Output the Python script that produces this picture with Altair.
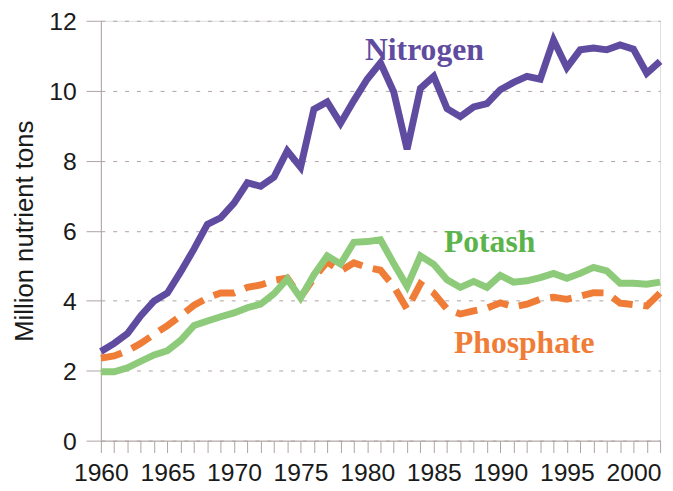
import altair as alt
import pandas as pd

years = list(range(1960, 2003))

nitrogen = [2.55, 2.78, 3.06, 3.57, 3.99, 4.22, 4.83, 5.48, 6.18, 6.37,
            6.79, 7.37, 7.27, 7.53, 8.28, 7.81, 9.47, 9.68, 9.07, 9.72,
            10.33, 10.80, 9.96, 8.33, 10.07, 10.41, 9.49, 9.26, 9.54, 9.63,
            10.03, 10.24, 10.41, 10.33, 11.45, 10.66, 11.17, 11.22, 11.17, 11.31,
            11.19, 10.50, 10.84]

potash = [1.97, 1.97, 2.08, 2.27, 2.45, 2.57, 2.87, 3.29, 3.42, 3.54,
          3.65, 3.80, 3.90, 4.20, 4.62, 4.08, 4.74, 5.28, 5.05, 5.67,
          5.69, 5.74, 5.06, 4.41, 5.28, 5.04, 4.60, 4.38, 4.55, 4.38,
          4.72, 4.53, 4.57, 4.66, 4.78, 4.64, 4.78, 4.95, 4.85, 4.50,
          4.50, 4.47, 4.53]

phosphate = [2.36, 2.42, 2.57, 2.78, 3.04, 3.29, 3.57, 3.87, 4.08, 4.22,
             4.22, 4.38, 4.45, 4.58, 4.65, 4.10, 4.65, 5.11, 4.85, 5.08,
             4.95, 4.87, 4.41, 3.76, 4.48, 4.22, 3.76, 3.62, 3.71, 3.79,
             3.94, 3.82, 3.90, 4.04, 4.10, 4.04, 4.13, 4.23, 4.22, 3.93,
             3.89, 3.85, 4.22]

series_names = ["Nitrogen", "Potash", "Phosphate"]
line_colors = ["#5F4BA0", "#8DCB7A", "#F07D37"]
text_colors = ["#5F4BA0", "#5AB44B", "#F07D37"]
label_year = [1984.3, 1989.2, 1991.8]
label_value = [10.88, 5.40, 2.50]

rows = []
for name, vals in zip(series_names, [nitrogen, potash, phosphate]):
    for yr, v in zip(years, vals):
        rows.append({"year": yr, "value": v, "series": name})
df = pd.DataFrame(rows)

labels_df = pd.DataFrame({"series": series_names, "year": label_year,
                          "value": label_value, "color": text_colors})

axis_color = "#AFA2A2"

x_enc = alt.X(
    "year:Q",
    scale=alt.Scale(domain=[1960, 2002], nice=False, zero=False),
    axis=alt.Axis(
        values=years, format="d",
        labelExpr="datum.value % 5 == 0 ? datum.label : ''",
        grid=False, tickSize=12, tickColor=axis_color, domainColor=axis_color,
        labelFont="Liberation Sans", labelFontSize=25, labelColor="#1a1a1a",
        labelPadding=8, labelOverlap=False, labelFlush=False, title=None,
    ),
)
y_enc = alt.Y(
    "value:Q",
    scale=alt.Scale(domain=[0, 12], nice=False),
    axis=alt.Axis(
        values=[0, 2, 4, 6, 8, 10, 12], grid=True, gridDash=[4, 8],
        gridColor=axis_color, gridWidth=1,
        tickSize=15, tickColor=axis_color, domainColor=axis_color,
        labelFont="Liberation Sans", labelFontSize=25, labelColor="#1a1a1a",
        labelPadding=10, labelOffset=1,
        title="Million nutrient tons", titleFont="Liberation Sans",
        titleFontSize=26, titleFontWeight="normal", titleColor="#1a1a1a",
        titlePadding=11,
    ),
)

def line_layer(name, color, dash=None):
    kw = dict(color=color, strokeWidth=7, strokeJoin="miter", strokeCap="butt")
    if dash:
        kw["strokeDash"] = dash
    return (
        alt.Chart(df)
        .transform_filter(alt.datum.series == name)
        .mark_line(**kw)
        .encode(x=x_enc, y=y_enc)
    )

phos = line_layer("Phosphate", line_colors[2], [22, 11])
pot = line_layer("Potash", line_colors[1])
nit = line_layer("Nitrogen", line_colors[0])

texts = (
    alt.Chart(labels_df)
    .mark_text(font="Liberation Serif", fontWeight="bold", fontSize=32,
               align="center", baseline="alphabetic")
    .encode(x=x_enc, y=y_enc, text="series:N",
            color=alt.Color("color:N", scale=None))
)

chart = (
    alt.layer(phos, pot, nit, texts)
    .properties(width=566, height=425,
                autosize=alt.AutoSizeParams(type="none"),
                padding={"left": 94, "top": 10, "right": 5, "bottom": 46})
    .configure_view(strokeWidth=0)
    .configure(background="white")
)

chart.save("out.html", embed_options={"renderer": "svg", "actions": False})
